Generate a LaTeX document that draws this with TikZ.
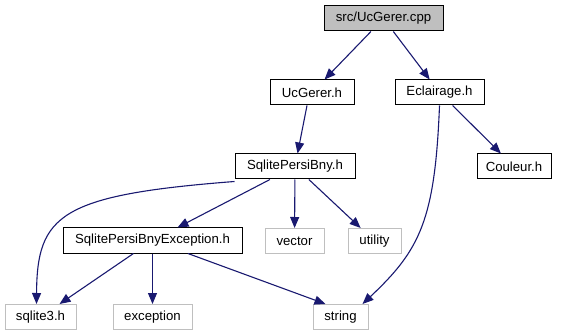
\documentclass[tikz,border=0pt]{standalone}
\usepackage{fontspec}
\setmainfont{Liberation Sans}
\usetikzlibrary{arrows.meta}
\definecolor{edgeblue}{HTML}{191970}
\definecolor{sysgray}{HTML}{BFBFBF}
\begin{document}
\begin{tikzpicture}[x=1pt,y=-1pt,
  box/.style={draw=black,fill=white,line width=1pt,minimum height=25pt,inner sep=0pt,
    font=\fontsize{13.2}{15}\selectfont},
  rootbox/.style={box,fill=sysgray},
  sysbox/.style={box,draw=sysgray},
  dep/.style={draw=edgeblue,line width=1.1pt,-{Triangle[length=11pt,width=9pt]}}]
\useasboundingbox (0,0) rectangle (561,336);
% source file and its direct includes
\node[rootbox,minimum width=119pt] (cpp) at (383.5,18.5) {src/UcGerer.cpp};
\node[box,minimum width=84pt] (ucg) at (312,92.5) {UcGerer.h};
\node[box,minimum width=89pt] (ecl) at (439.5,92.5) {Eclairage.h};
% second level
\node[box,minimum width=120pt] (spb) at (295,166.5) {SqlitePersiBny.h};
\node[box,minimum width=74pt] (cou) at (514,166.5) {Couleur.h};
% third level
\node[box,minimum width=179pt] (exc) at (152.5,240.5) {SqlitePersiBnyException.h};
\node[sysbox,minimum width=59pt] (vec) at (294.5,241) {vector};
\node[sysbox,minimum width=53pt] (uti) at (374.5,241) {utility};
% system headers at the bottom
\node[sysbox,minimum width=71pt] (sq3) at (40.5,317) {sqlite3.h};
\node[sysbox,minimum width=79pt] (exn) at (152.5,317) {exception};
\node[sysbox,minimum width=55pt] (str) at (340.5,317) {string};
% include edges
\path[dep] (cpp) -- (ucg);
\path[dep] (cpp) -- (ecl);
\path[dep] ([xshift=-5pt]ucg.south) -- (spb);
\path[dep] (ecl) -- (cou);
\path[dep] (ecl.south) .. controls (435,220) and (420,250) .. ([xshift=22pt]str.north);
\path[dep] ([yshift=-2pt]spb.south west) .. controls (60,195) and (37,215) .. ([xshift=-4pt]sq3.north);
\path[dep] (spb) -- (exc);
\path[dep] (spb) -- (vec);
\path[dep] (spb) -- (uti);
\path[dep] (exc) -- (sq3);
\path[dep] (exc) -- (exn);
\path[dep] (exc) -- ([xshift=-15pt]str.north);
\end{tikzpicture}
\end{document}
